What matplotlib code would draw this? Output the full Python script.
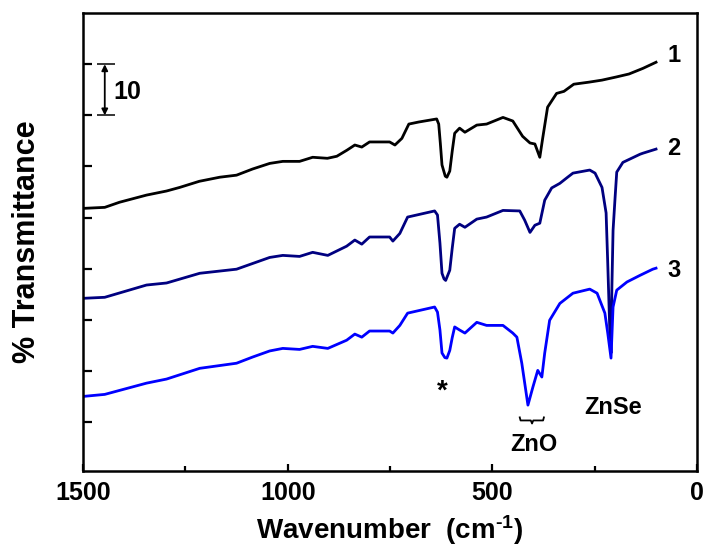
import matplotlib.pyplot as plt

plt.rcParams['font.family'] = ['Liberation Sans', 'DejaVu Sans']
plt.rcParams['font.weight'] = 'bold'
plt.rcParams['axes.labelweight'] = 'bold'
plt.rcParams['mathtext.default'] = 'regular'

# FTIR spectra, wavenumber (cm-1) vs. offset transmittance (%)
wn1 = [1500, 1447, 1411, 1345, 1296, 1264, 1216, 1166, 1125, 1086,
       1044, 1012, 971, 939, 903, 880, 855, 836, 819, 800,
       775, 751, 738, 721, 704, 680, 636, 631, 627, 623,
       615, 611, 604, 598, 592, 580, 567, 538, 514, 474,
       450, 426, 408, 396, 384, 377, 365, 343, 325, 301,
       264, 232, 198, 166, 132, 100]
t1 = [51.8, 52.0, 53.0, 54.4, 55.2, 55.9, 57.1, 57.9, 58.3, 59.5,
      60.6, 61.0, 61.0, 61.8, 61.6, 62.0, 63.2, 64.2, 63.8, 64.8,
      64.8, 64.8, 64.2, 65.5, 68.3, 68.7, 69.3, 68.3, 64.5, 60.3,
      58.1, 57.9, 59.1, 63.0, 66.5, 67.5, 66.7, 68.1, 68.3, 69.6,
      68.9, 65.9, 64.6, 64.4, 61.8, 65.5, 71.6, 74.3, 74.7, 76.1,
      76.5, 76.9, 77.5, 78.1, 79.2, 80.4]

wn2 = [1500, 1447, 1345, 1296, 1215, 1125, 1044, 1012, 971, 939,
       902, 856, 836, 819, 800, 751, 743, 726, 707, 641,
       634, 628, 623, 618, 614, 604, 598, 592, 580, 567,
       538, 514, 474, 433, 421, 408, 396, 384, 372, 355,
       335, 316, 303, 262, 249, 232, 222, 218, 213, 210,
       208, 205, 200, 196, 181, 139, 132, 108, 100]
t2 = [34.2, 34.4, 36.8, 37.2, 39.1, 39.9, 42.2, 42.6, 42.4, 43.2,
      42.6, 44.4, 45.6, 44.8, 46.2, 46.2, 45.4, 46.9, 50.1, 51.3,
      50.5, 45.0, 39.1, 38.0, 37.7, 39.7, 44.0, 47.9, 48.7, 48.1,
      49.7, 50.1, 51.4, 51.3, 49.5, 47.1, 48.5, 48.9, 53.4, 55.8,
      56.7, 57.9, 58.7, 59.3, 58.7, 55.9, 50.9, 41.1, 28.0, 23.5,
      35.8, 47.5, 54.0, 58.9, 60.8, 62.4, 62.6, 63.2, 63.4]

wn3 = [1500, 1447, 1345, 1296, 1215, 1125, 1086, 1044, 1012, 971,
       939, 902, 856, 836, 819, 800, 751, 743, 726, 707,
       641, 634, 628, 623, 616, 611, 604, 598, 592, 580,
       567, 538, 514, 474, 450, 440, 428, 413, 401, 389,
       379, 372, 360, 335, 303, 262, 244, 225, 218, 210,
       205, 196, 171, 139, 108, 100]
t3 = [15.0, 15.4, 17.6, 18.4, 20.5, 21.5, 22.7, 23.9, 24.4, 24.2,
      24.8, 24.4, 26.0, 27.2, 26.6, 27.8, 27.8, 27.4, 28.9, 31.3,
      32.5, 31.5, 28.0, 23.5, 22.6, 22.5, 24.0, 26.5, 28.6, 28.0,
      27.4, 29.5, 28.9, 28.9, 27.4, 26.6, 21.5, 13.3, 16.8, 20.1,
      18.8, 23.5, 29.9, 33.2, 35.2, 36.0, 35.2, 31.3, 27.4, 22.5,
      32.5, 35.8, 37.4, 38.7, 39.9, 40.1]

labels = ['1', '2', '3']
colors = ['black', '#000080', '#0000ff']
ends = [81.8, 63.6, 39.7]

fig = plt.figure(figsize=(7.04, 5.49), dpi=100)
ax = fig.add_axes([0.118, 0.142, 0.872, 0.834])

for wn, t, c in zip([wn1, wn2, wn3], [t1, t2, t3], colors):
    ax.plot(wn, t, color=c, lw=2.0, solid_joinstyle='round')

for lab, y in zip(labels, ends):
    ax.text(56, y, lab, fontsize=17, fontweight='bold', ha='center', va='center')

ax.set_xlim(1500, 0)
ax.set_ylim(0.4, 90)
ax.set_xticks([1500, 1000, 500, 0])
ax.set_xticks([1250, 750, 250], minor=True)
ax.set_yticks(range(10, 90, 10))
ax.set_yticklabels([])

ax.tick_params(axis='x', which='major', direction='in', length=5, width=1.6,
               labelsize=18, pad=7)
ax.tick_params(axis='x', which='minor', direction='in', length=3.5, width=1.6)
ax.tick_params(axis='y', direction='in', length=6.5, width=1.6)
for s in ax.spines.values():
    s.set_linewidth(1.8)

ax.set_xlabel('Wavenumber  (cm$^{\u20101}$)', fontsize=20, labelpad=6)
ax.set_ylabel('% Transmittance', fontsize=22, labelpad=26)

# scale bar for 10 % T
ax.hlines([70, 80], 1467, 1423, color='black', lw=1.1)
ax.annotate('', xy=(1447, 80), xytext=(1447, 70),
            arrowprops=dict(arrowstyle='<|-|>', color='black', lw=1.3,
                            mutation_scale=9, shrinkA=0, shrinkB=0))
ax.text(1425, 74.6, '10', fontsize=18, fontweight='bold', ha='left', va='center')

# peak assignments
ax.text(623, 16.0, '*', fontsize=20, fontweight='bold', ha='center', va='center')
ax.plot([433, 431, 406, 403, 400, 376, 374],
        [10.9, 10.3, 10.3, 9.7, 10.3, 10.3, 10.9], color='black', lw=1.3)
ax.text(399, 5.5, 'ZnO', fontsize=17, fontweight='bold', ha='center', va='center')
ax.text(205, 12.9, 'ZnSe', fontsize=17, fontweight='bold', ha='center', va='center')

fig.savefig('out.png', dpi=100)
